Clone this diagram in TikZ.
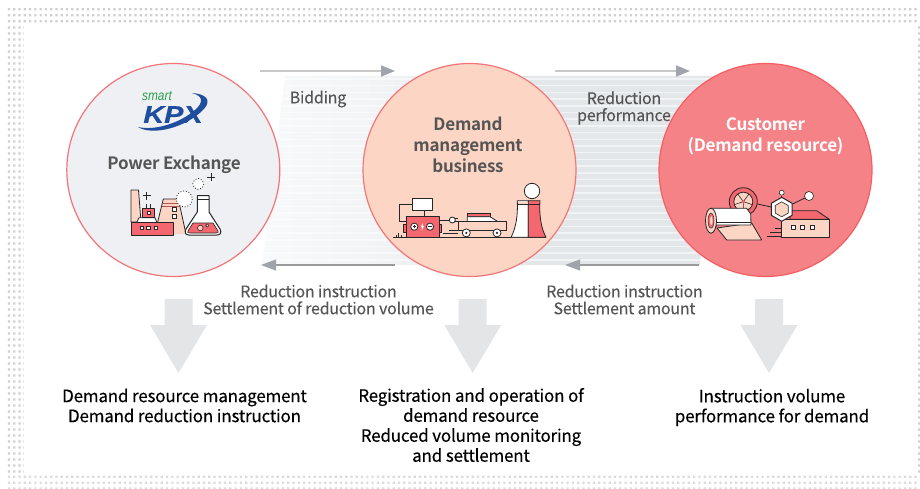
\documentclass[tikz,border=0pt]{standalone}
\usepackage{fontspec}
\setmainfont{Noto Sans CJK KR}
\newfontfamily\medf[FakeBold=0.25,LetterSpace=-1.2]{Noto Sans CJK KR}
\newfontfamily\regf[FakeBold=0.1,LetterSpace=-1.5]{Noto Sans CJK KR}
\newfontfamily\boldf[LetterSpace=-1.5]{Noto Sans CJK KR Bold}
\newfontfamily\logof{Liberation Sans}
\newfontfamily\logok[FakeBold=0.6]{Liberation Sans Bold Italic}
\usetikzlibrary{arrows.meta,shapes.geometric}
\definecolor{dotc}{HTML}{CFCFCF}
\definecolor{txtg}{HTML}{555555}
\definecolor{ringc}{HTML}{F2757A}
\definecolor{c1fill}{HTML}{EEF0F3}
\definecolor{c2fill}{HTML}{FCD5C5}
\definecolor{c3fill}{HTML}{F48286}
\definecolor{icred}{HTML}{F4676E}
\definecolor{icpink}{HTML}{FCD5C5}
\definecolor{icd}{HTML}{262626}
\definecolor{bigarr}{HTML}{E4E5E7}
\definecolor{lnlight}{HTML}{C8C8C8}
\definecolor{lndark}{HTML}{9A9A9C}
\definecolor{headc}{HTML}{A0A3A9}
\definecolor{banda}{HTML}{F8F9FA}
\definecolor{bandb}{HTML}{F1F3F5}
\definecolor{bandc}{HTML}{E3E7EA}
\definecolor{logob}{HTML}{1F4E9E}
\definecolor{logog}{HTML}{2E9E4F}
\pgfdeclarehorizontalshading{bandsh}{100bp}{color(0bp)=(banda); color(25bp)=(banda); color(38bp)=(bandb); color(52bp)=(bandc); color(75bp)=(bandc); color(100bp)=(bandc)}
\tikzset{
  ic/.style={draw=icd,line width=.8pt,line join=round},
  bigc/.style={circle,minimum size=213pt,inner sep=0pt,line width=1.2pt},
  hexa/.style={regular polygon,regular polygon sides=6,shape border rotate=30,inner sep=0pt,ic},
  toparr/.style={draw=lnlight,line width=1.6pt,-{Triangle[length=14pt,width=11pt,color=headc,fill=headc]}},
  botarr/.style={draw=lndark,line width=1.2pt,-{Triangle[length=15pt,width=11pt,color=headc,fill=headc]}},
  lab/.style={font=\regf\fontsize{16}{17}\selectfont,text=txtg,align=center,inner sep=0pt},
  title/.style={font=\boldf\fontsize{17}{21}\selectfont,text=txtg,align=center,inner sep=0pt},
  res/.style={font=\medf\fontsize{17}{20}\selectfont,text=black,align=center,inner sep=0pt},
  bigdown/.pic={\fill[bigarr] (-14,0)--(14,0)--(14,26)--(28.5,26)--(0,74)--(-28.5,26)--(-14,26)--cycle;}
}
\begin{document}
\begin{tikzpicture}[x=1pt,y=-1pt]
\useasboundingbox (0,0) rectangle (920,489);
\fill[white] (0,0) rectangle (920,489);
% dotted frame
\fill[dotc] foreach \r in {9.3,15.3,21.3}{ foreach \k in {0,...,172}{ (9+\k*5.27-1.1,\r-1.1) rectangle ++(2.2,2.2) } };
\fill[dotc!75] foreach \r in {476.7,482.7,488.4}{ foreach \k in {0,...,172}{ (9+\k*5.27-1.1,\r-1.1) rectangle ++(2.2,2.2) } };
\fill[dotc] foreach \c in {9,14.3,19.5}{ foreach \k in {0,...,74}{ (\c-1.1,27.5+\k*6-1.1) rectangle ++(2.2,2.2) } };
\fill[dotc!55] foreach \k in {0,...,74}{ (23,27.5+\k*6-1.1) rectangle ++(.9,2.2) };
\fill[dotc] foreach \k in {0,...,74}{ (918,27.5+\k*6-1.1) rectangle ++(2,2.2) };
% striped band
\begin{scope}
\clip (285,76)--(715,76)--(700,265)--(262,265)--cycle;
\shade[shading=bandsh] (262,76) rectangle (715,265);
\draw[white,line width=1.5pt,opacity=.5] foreach \k in {0,...,28}{ (255,79+\k*6.7)--(720,79+\k*6.7) };
\end{scope}
% flow arrows
\coordinate (t1s) at (260,71); \coordinate (t1e) at (395,71);
\coordinate (t2s) at (555,71); \coordinate (t2e) at (690,71);
\coordinate (b1s) at (395,265); \coordinate (b1e) at (261,265);
\coordinate (b2s) at (699,265); \coordinate (b2e) at (565,265);
\draw[toparr] (t1s)--(t1e);
\draw[toparr] (t2s)--(t2e);
\draw[botarr] (b1s)--(b1e);
\draw[botarr] (b2s)--(b2e);
% circles
\node[bigc,fill=c1fill,draw=ringc] (c1) at (173.3,170) {};
\node[bigc,fill=c2fill,draw=ringc] (c2) at (469.5,170) {};
\node[bigc,fill=c3fill,draw=ringc!80!red] (c3) at (765.5,170) {};
% labels
\node[lab] (lbid) at (318,99) {Bidding};
\node[lab] (lperf) at (624,108) {Reduction\\performance};
\node[lab] (lri1) at (318.5,299.5) {Reduction instruction\\Settlement of reduction volume};
\node[lab] (lri2) at (624.5,299.5) {Reduction instruction\\Settlement amount};
\node[title] (tpx) at (174,165) {Power Exchange};
\node[title] (tdm) at (468,145) {Demand\\management\\business};
\node[title,text=white] (tcu) at (765.5,136.5) {Customer\\(Demand resource)};
% logo
\fill[logob] (138,127) .. controls (152,136) and (186,128) .. (204,109) .. controls (212,100) and (206,94) .. (192,93) .. controls (203,96) and (204,102) .. (195,110) .. controls (180,123) and (155,131) .. (138,127) -- cycle;
\node[font=\logok\fontsize{24}{24}\selectfont,text=logob,inner sep=0pt,xscale=1.2] (lkpx) at (173,114.5) {KPX};
\node[font=\logof\itshape\fontsize{14}{14}\selectfont,text=logog,inner sep=0pt,xscale=.85] (lsm) at (157,96.5) {smart};
% big down arrows
\pic at (178.5,299) {bigdown};
\pic at (472.7,299) {bigdown};
\pic at (769,299) {bigdown};
% results
\node[res] (r1) at (184.5,405.5) {Demand resource management\\Demand reduction instruction};
\node[res] (r2) at (471,425) {Registration and operation of\\demand resource\\Reduced volume monitoring\\and settlement};
\node[res] (r3) at (772,407.5) {Instruction volume\\performance for demand};
% ---- icon 1: power exchange
\draw[ic,fill=icpink] (131,190)--(138.5,190)--(141,222)--(131,222)--cycle;
\draw[ic,fill=white] (137,222)--(139,217.7)--(155,217.7)--(156.7,222);
\draw[ic,fill=icred] (142.7,208.3) rectangle (154.3,217.7);
\draw[ic] (146,204.3)--(146,208.3) (150.7,204.3)--(150.7,208.3);
\draw[ic,fill=white,line width=.5pt] (147,211) rectangle (150.5,214.5);
\draw[ic] (146.7,191.5)--(146.7,199.5) (142.7,195.7)--(150.7,195.7);
\fill[icpink] (163.3,199)--(178.3,199)--(186,234)--(157.7,234)--(157.7,222)--cycle;
\draw[ic] (157.7,222)--(163.3,199)--(178.3,199)--(186,234);
\draw[ic,line width=1pt,draw=icred!70!icd] (162.5,203)--(179,203) (161.8,206)--(179.7,206);
\draw[ic,fill=white,line width=.6pt] (172,207.3) rectangle (176,211.3);
\draw[ic,fill=white,line width=.6pt] (172,214.7) rectangle (176,218.7);
\draw[ic,fill=icred] (131,222) rectangle (173,235);
\foreach \xx in {141.7,148.3,155.7}{\draw[ic,fill=white,line width=.6pt] (\xx-1.8,225.9) rectangle (\xx+1.8,229.5);}
\draw[ic,fill=white,dotted,line width=.9pt] (184.3,199) circle[radius=8];
\draw[ic,fill=white,dotted,line width=.9pt] (198.3,184) circle[radius=5.5];
\draw[ic] (211,173.5)--(211,181) (207.2,177.3)--(214.8,177.3);
\draw[ic,fill=white,line width=1pt] (197.3,195.7)--(209,195.7)--(209,212)--(220,229) .. controls (222,233) and (220,235) .. (217,235) -- (189,235) .. controls (186,235) and (184,233) .. (186,229) -- (197.3,212)--cycle;
\draw[ic,line width=.6pt] (197.3,199.5)--(209,199.5);
\draw[ic,fill=icred,line width=.6pt] (193,223)--(213,223)--(218,231) .. controls (219,232.5) and (218,233) .. (216,233) -- (190,233) .. controls (188,233) and (187,232.5) .. (188,231) -- cycle;
\draw[ic,fill=icpink,line width=.6pt] (200.3,228) circle[radius=2.8];
\draw[ic,fill=icpink,line width=.6pt] (207.3,225.5) circle[radius=1.7];
% ---- icon 2: demand management
\draw[ic] (393,237.3)--(546,237.3);
\draw[ic,line width=.5pt] (396,237)--(396,234.5) (398.5,237)--(398.5,233) (401,237)--(401,235);
\draw[ic] (412.3,204.3)--(399,204.3)--(399,221.7)--(405.7,221.7);
\draw[ic] (424.3,210.7)--(424.3,216.7);
\draw[ic,fill=white] (412.3,198.3) rectangle (432.7,210.7);
\draw[ic,fill=icred] (403.3,224.3) rectangle (406,232.3);
\draw[ic,fill=icred] (439,224.3) rectangle (441.7,232.3);
\draw[ic,fill=icred] (406,216.7) rectangle (439,237.3);
\draw[ic,fill=white] (414.3,226.7) circle[radius=3.6];
\draw[ic,fill=white] (430,226.7) circle[radius=3.6];
\draw[ic,line width=.6pt] (412.6,226.7)--(416,226.7) (414.3,225)--(414.3,228.4) (428.3,226.7)--(431.7,226.7);
\fill[white] (423.2,222.5)--(420.8,227.2)--(422.2,227.2)--(421.4,231)--(424,226)--(422.6,226)--cycle;
\draw[ic] (439,220)--(449.3,220);
\draw[ic,fill=white] (452.3,220) circle[radius=3];
\draw[ic] (455,218.5)--(458,218.5) (455,221.5)--(458,221.5);
\draw[ic,fill=icred] (467.3,213.3) rectangle (490.7,216.7);
\draw[ic,fill=white] (467.3,221.7)--(467.3,216.7)--(490,216.7)--(498,221.7)--cycle;
\draw[ic,fill=icpink] (458.3,221.7) rectangle (506.7,230);
\draw[ic] (443.3,233.3)--(458,233.3) (449,230)--(458,230);
\foreach \xx in {466.3,497}{\draw[ic,fill=white] (\xx,232.9) circle[radius=4]; \fill[icd] (\xx,232.9) circle[radius=1.2];}
\draw[ic,fill=white] (517.3,200.7)--(528.3,200.7)--(528.3,237.3)--(511,237.3) .. controls (516,228) and (518,215) .. (517.3,200.7)--cycle;
\draw[ic,fill=icred] (528.3,200.7)--(540,200.7) .. controls (539,215) and (541,228) .. (546,237.3)--(528.3,237.3)--cycle;
\fill[icpink] (518,202)--(527.8,202)--(527.8,204)--(518,204)--cycle;
\draw[ic,line width=.5pt] (517.3,204.5)--(540,204.5);
\draw[ic,fill=white] (532,191) circle[radius=7.7];
% ---- icon 3: customer
\draw[ic,fill=icred] (743.3,201.7) circle[radius=14];
\draw[ic,fill=icpink] (743.3,201.7) circle[radius=9.5];
\draw[ic,line width=.6pt] foreach \a in {90,162,234,306,18}{ (743.3,201.7)--++(\a:9.5) };
\fill[icred] (743.3,201.7) circle[radius=1.8];
\draw[ic,fill=icpink] (717,228)--(751.7,223)--(761.7,240)--(726.7,240)--cycle;
\draw[ic,fill=white] (711,208.3)--(746.7,208.3)--(750.7,214)--(751,225)--(717,225)--(711,233)--cycle;
\draw[ic,line width=.6pt] (715,222)--(751,222);
\draw[ic,fill=icpink] (711,220.7) ellipse[x radius=5.5,y radius=12.5];
\draw[ic,fill=icred,line width=.5pt] (711,220.7) ellipse[x radius=3,y radius=7.5];
\fill[icpink] (711.3,220.7) ellipse[x radius=1.3,y radius=4.5];
\draw[ic,fill=icred] (790,210.7)--(816.7,210.7)--(829.3,219.3)--(790,219.3)--cycle;
\draw[ic,fill=icpink] (781.7,219.3) rectangle (829.3,237.3);
\foreach \xx in {793.3,802.7,812}{\draw[ic,fill=white,line width=.6pt] (\xx-2,225.7) rectangle (\xx+2,229.7);}
\draw[ic] (775,228.3)--(781.7,228.3) (770,232.3)--(781.7,232.3) (767,236.7)--(781.7,236.7);
\node[hexa,minimum size=24pt,line width=1pt,fill=white] (hex) at (781.7,209.3) {};
\node[hexa,minimum size=15pt,line width=.6pt,fill=icpink] (hexin) at (781.7,209.3) {};
\node[circle,minimum size=5pt,inner sep=0pt,ic,line width=.6pt,fill=white] (sm) at (781.7,192.7) {};
\node[circle,minimum size=9pt,inner sep=0pt,ic,line width=.6pt,fill=white] (bg) at (809,196) {};
\coordinate (wh) at (757.3,204);
\draw[ic] (wh)--(hex);
\draw[ic] (hex)--(bg);
\draw[ic,line width=.6pt] (sm)--(hex);
\end{tikzpicture}
\end{document}
